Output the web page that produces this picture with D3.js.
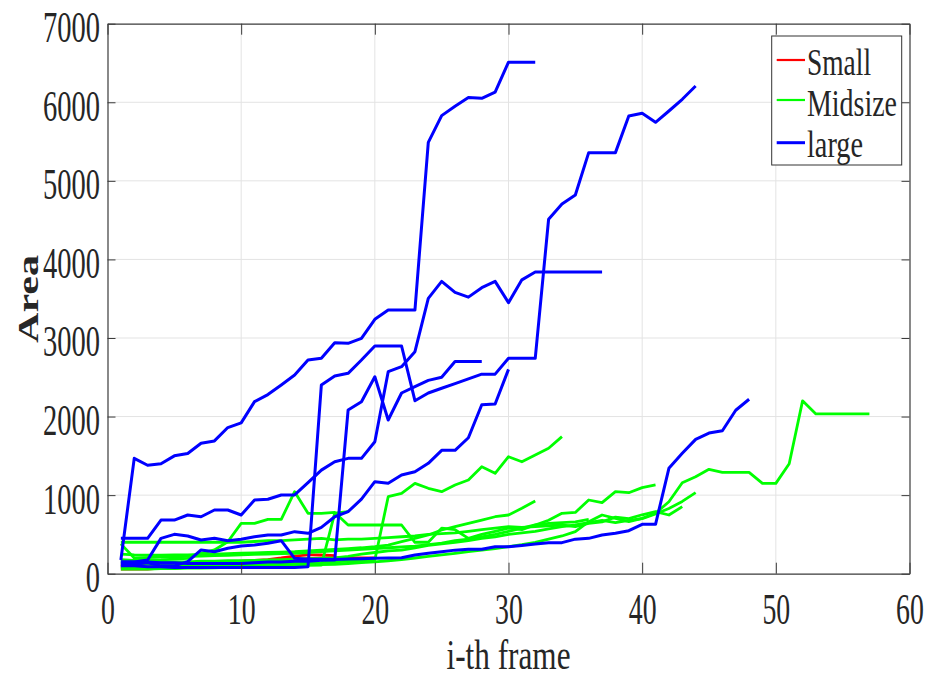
<!DOCTYPE html>
<html><head><meta charset="utf-8">
<script src="https://cdn.jsdelivr.net/npm/d3@7"></script>
<style>html,body{margin:0;padding:0;background:#fff;} svg{display:block;}</style>
</head><body>
<svg id="chart" width="930" height="675"></svg>
<script>
// ---- data ----
const xTicks = [0, 10, 20, 30, 40, 50, 60];
const yTicks = [0, 1000, 2000, 3000, 4000, 5000, 6000, 7000];
const seriesNames = ["Small", "Midsize", "large"];
const seriesColors = ["#ff0000", "#00ff00", "#0000ff"];

// Small (red), values per frame starting at frame 1
const small1 = [80,80,85,85,90,100,110,120,140,160,170,180,200,225,240,240,230];
const small2 = [60,60,60,70,70,80,80,90,100,150,130,150,170,180];
const small3 = [120,110,110,100,100,100,110,120,130,140,150,160,170,180,190,200,200,200,200,200];

// Midsize (green)
const mid1 = [60,60,60,65,65,70,70,75,80,85, 90,95,100,105,110,115,120,130,140,150,
  165,180,200,220,240,260,280,300,320,345, 370,400,440,480,535,662,747,705,662,705,
  769,916,1158,1235,1329,1290,1290,1290,1150,1150, 1400,2200,2033,2033,2033,2033,2033];
const mid2 = [100,100,105,105,110,110,115,115,120,120, 125,125,130,130,135,140,150,160,165,174,
  980,1023,1150,1087,1044,1129,1193,1362,1278,1489, 1425,1511,1596,1744];
const mid3 = [250,240,235,235,240,240,245,250,255,260, 265,270,275,280,290,300,310,320,330,344,
  365,407,450,493,556,598,641,683,725,747, 832,925];
const mid4 = [380,200,205,210,215,220,225,230,235,240, 245,250,255,260,270,280,290,300,310,320,
  330,340,350,370,390,420,440,470,500,540, 580,620,680,769,780,938,904,1044,1031,1095, 1129];
const mid5 = [400,400,400,400,400,400,400,400,400,400, 410,420,420,430,440,450,430,440,440,450,
  460,470,480,500,510,520,540,560,580,600, 590,600,610,620,600,640,660,720,700,750, 789,747,853];
const mid6 = [150,140,140,150,150,150,160,160,165,165, 170,175,180,185,190,195,200,220,250,270,
  290,300,330,360,380,400,420,450,470,500, 520,540,570,600,620,650,680,650,680,700, 760,830,920,1031];
const mid7 = [180,170,170,175,185,196,260,302,407,641, 641,692,692,1044,769,769,780,620,620,620,
  620,620,400,400,580,560,450,500,540,580, 560,620,640,650,660,690];
const mid8 = [90,90,90,90,90,95,95,95,100,100, 100,100,105,105,110,110,770,790];

// large (blue)
const large1 = [174,1468,1380,1400,1500,1530,1660,1690,1860,1920, 2190,2280,2402,2529,2720,2741,2940,2932,2996,3238,
  3356,3356,3356,5490,5830,5950,6060,6050,6130,6510, 6510,6510];
const large2 = [100,100,90,90,80,80,80,80,80,80, 80,80,80,80,90,2402,2516,2550,2720,2898,
  2898,2898,2202,2300,2360,2420,2480,2540,2540,2741, 2741,2741,4511,4706,4820,5359,5359,5359,5825,5860,
  5745,5889,6038,6207];
const large3 = [450,450,450,683,683,747,725,811,811,747, 938,947,1002,1002,1160,1318,1425,1468,1468,1680,
  2571,2635,2826,3505,3720,3580,3520,3640,3720,3450, 3740,3840,3840,3840,3840,3840,3840];
const large4 = [150,150,150,140,140,130,130,130,130,130, 140,150,150,160,160,170,174,2083,2189,2507,
  1956,2300,2380,2460,2500,2700,2700,2700];
const large5 = [150,150,174,450,501,480,429,450,420,438, 471,493,493,535,514,590,725,789,950,1171,
  1150,1256,1298,1405,1570,1570,1730,2150,2160,2600];
const large6 = [120,120,140,100,100,153,302,280,323,353, 365,387,420,196,183,183,180,187,190,196,
  200,204,238,260,280,300,311,311,344,344, 360,378,395,395,440,450,493,514,547,629,
  629,1341,1532,1710,1790,1820,2080,2220];

const smallLines = [small1, small2, small3];
const midLines = [mid1, mid2, mid3, mid4, mid5, mid6, mid7, mid8];
const largeLines = [large1, large2, large3, large4, large5, large6];
const groups = [smallLines, midLines, largeLines];

// ---- layout ----
const svg = d3.select("#chart");
const L = 107.5, R = 909.5, T = 23.7, B = 573.7;
const x = d3.scaleLinear().domain([0, 60]).range([L, R]);
const y = d3.scaleLinear().domain([0, 7000]).range([B, T]);
const serif = "'Liberation Serif','Times New Roman',serif";
const axisColor = "#3a3a3a";
const textColor = "#262626";

svg.append("rect").attr("width", 930).attr("height", 675).attr("fill", "#fff");

// grid
const grid = svg.append("g");
grid.selectAll("line.gx").data(xTicks.slice(1, -1)).join("line")
  .attr("x1", d => x(d)).attr("x2", d => x(d)).attr("y1", T).attr("y2", B)
  .attr("stroke", "#e3e3e3").attr("stroke-width", 1);
grid.selectAll("line.gy").data(yTicks.slice(1, -1)).join("line")
  .attr("x1", L).attr("x2", R).attr("y1", d => y(d)).attr("y2", d => y(d))
  .attr("stroke", "#e3e3e3").attr("stroke-width", 1);

// data lines
const line = d3.line().x((d, i) => x(i + 1)).y(d => y(d));
groups.forEach((grp, gi) => {
  svg.append("g").selectAll("path").data(grp).join("path")
    .attr("d", line)
    .attr("fill", "none")
    .attr("stroke", seriesColors[gi])
    .attr("stroke-width", gi === 2 ? 3 : 2.8)
    .attr("stroke-linejoin", "round");
});

// axes
const fmt = d3.format("d");
function styleAxis(g) {
  g.selectAll("path.domain").attr("stroke", axisColor).attr("stroke-width", 1.2);
  g.selectAll(".tick line").attr("stroke", axisColor).attr("stroke-width", 1);
}
const xAxis = svg.append("g").attr("transform", `translate(0,${B})`)
  .call(d3.axisBottom(x).tickValues(xTicks).tickFormat(fmt).tickSize(-11).tickSizeOuter(0))
  .call(styleAxis);
xAxis.selectAll(".tick text")
  .attr("y", 50.3).attr("dy", null)
  .attr("font-family", serif).attr("font-size", 44).attr("fill", textColor)
  .attr("lengthAdjust", "spacingAndGlyphs")
  .attr("textLength", d => fmt(d).length * 13.9);

svg.append("g").attr("transform", `translate(0,${T})`)
  .call(d3.axisTop(x).tickValues(xTicks).tickSize(-11).tickSizeOuter(0).tickFormat(""))
  .call(styleAxis);

const yAxis = svg.append("g").attr("transform", `translate(${L},0)`)
  .call(d3.axisLeft(y).tickValues(yTicks).tickFormat(fmt).tickSize(-8).tickSizeOuter(0).tickPadding(7.5))
  .call(styleAxis);
yAxis.selectAll(".tick text")
  .attr("x", -7.5).attr("y", 18).attr("dy", null)
  .attr("font-family", serif).attr("font-size", 44).attr("fill", textColor)
  .attr("lengthAdjust", "spacingAndGlyphs")
  .attr("textLength", d => fmt(d).length * 14.25);

svg.append("g").attr("transform", `translate(${R},0)`)
  .call(d3.axisRight(y).tickValues(yTicks).tickSize(-8).tickSizeOuter(0).tickFormat(""))
  .call(styleAxis);

// axis titles
svg.append("text")
  .attr("x", 508.5).attr("y", 669)
  .attr("text-anchor", "middle")
  .attr("font-family", serif).attr("font-size", 42).attr("fill", textColor)
  .attr("lengthAdjust", "spacingAndGlyphs").attr("textLength", 124)
  .text("i-th frame");

svg.append("text")
  .attr("transform", "translate(38,299) rotate(-90)")
  .attr("text-anchor", "middle")
  .attr("font-family", serif).attr("font-size", 30).attr("font-weight", "bold")
  .attr("fill", textColor)
  .attr("lengthAdjust", "spacingAndGlyphs").attr("textLength", 88)
  .text("Area");

// legend
const leg = svg.append("g");
leg.append("rect").attr("x", 771.7).attr("y", 36).attr("width", 130).attr("height", 129)
  .attr("fill", "#fff").attr("stroke", "#333").attr("stroke-width", 1);
const legY = [60, 100, 142.7];
const legBase = [75, 116, 157];
const legLen = [64, 90, 56];
seriesNames.forEach((name, i) => {
  leg.append("line").attr("x1", 776.7).attr("x2", 805).attr("y1", legY[i]).attr("y2", legY[i])
    .attr("stroke", seriesColors[i]).attr("stroke-width", i === 2 ? 3 : 2.2);
  leg.append("text").attr("x", 807).attr("y", legBase[i])
    .attr("font-family", serif).attr("font-size", 37).attr("fill", textColor)
    .attr("lengthAdjust", "spacingAndGlyphs").attr("textLength", legLen[i])
    .text(name);
});
</script>
</body></html>
